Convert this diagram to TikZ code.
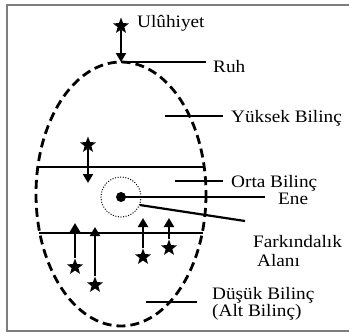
\documentclass[tikz,border=0pt]{standalone}
\usepackage{fontspec}
\setmainfont{Liberation Serif}[FakeStretch=1.1]
\usetikzlibrary{arrows.meta, shapes.geometric}
\definecolor{FrameGray}{RGB}{125, 125, 125}

\begin{document}
\begin{tikzpicture}[x=1pt, y=-1pt,
  lbl/.style={anchor=base west, inner sep=0pt, font=\fontsize{17.5}{18}\selectfont},
  starmark/.style={star, star points=5, star point ratio=2.4, fill=black, inner sep=0pt, minimum size=17pt},
  bar/.style={line width=2.2pt},
  push/.style={line width=2.2pt, -{Triangle[length=9pt, width=10pt]}}]
\useasboundingbox (0,0) rectangle (349,333);
\draw[FrameGray, line width=1.2pt] (7,5) rectangle (370,331);
\draw[line width=2.8pt, dash pattern=on 9pt off 5pt] (121,194) ellipse [x radius=85, y radius=132];
% levels
\coordinate (top) at (121,62);
\draw[bar] (top) -- (206,62);
\draw[bar] (165,116) -- (223,116);
\draw[bar] (39,167) -- (204,167);
\draw[bar] (175,181) -- (223,181);
\draw[bar] (39,233) -- (203,233);
\draw[bar] (146,302) -- (197,302);
% centre
\node[circle, draw, line width=1pt, dash pattern=on 1pt off 1.6pt, minimum size=40pt, inner sep=0pt] (aware) at (121,197) {};
\node[circle, fill=black, minimum size=10pt, inner sep=0pt] (ene) at (121,197) {};
\draw[bar] (ene.center) -- (265,197);
\draw[bar] (aware.-23) -- (245,221);
% stars
\node[starmark] (god) at (121,26) {};
\draw[push] (god.south) -- (top);
\node[starmark] (hs) at (88,145) {};
\draw[push] (hs.south) -- (88,183);
\foreach \x/\ys/\yt [count=\i] in {75/267/223, 95/285/227, 143/257/218, 169/248/218} {
  \node[starmark] (s\i) at (\x,\ys) {};
  \draw[push] (s\i.north) -- (\x,\yt);
}
% labels
\node[lbl] (ulu) at (137,27) {Ulûhiyet};
\node[lbl] (ruh) at (213,72) {Ruh};
\node[lbl] (high) at (231,122) {Yüksek Bilinç};
\node[lbl] (mid) at (231,187) {Orta Bilinç};
\node[lbl] (self) at (278,204) {Ene};
\node[lbl] (field) at (253,247) {Farkındalık};
\node[lbl] (field2) at (257,266) {Alanı};
\node[lbl] (low) at (212,299) {Düşük Bilinç};
\node[lbl] (low2) at (212,316) {(Alt Bilinç)};
\end{tikzpicture}
\end{document}
